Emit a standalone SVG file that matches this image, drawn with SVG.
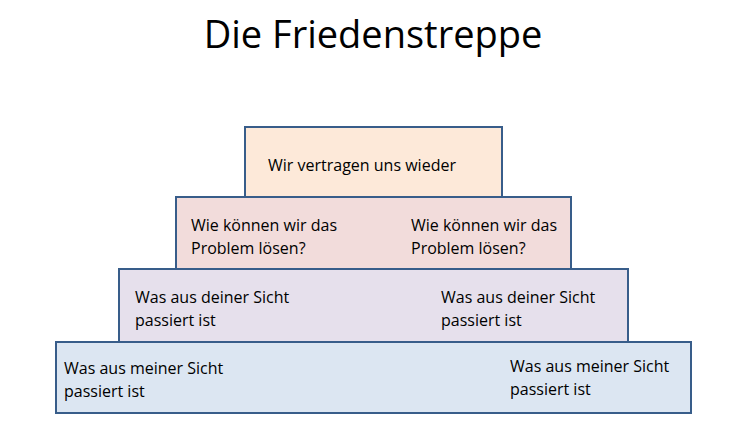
<svg xmlns="http://www.w3.org/2000/svg" width="750" height="422" viewBox="0 0 750 422">
<style>
.b{stroke:#385d8a;stroke-width:2}
.t{font-family:"Open Sans","Liberation Sans",sans-serif;font-size:16px;fill:#000}
</style>
<rect width="750" height="422" fill="#fff"/>
<text x="373" y="48" text-anchor="middle" font-family="'Open Sans','Liberation Sans',sans-serif" font-size="38">Die Friedenstreppe</text>
<g id="n4"><rect class="b" x="56" y="342" width="635" height="71" fill="#dce6f2"/>
<text class="t" x="64" y="374">Was aus meiner Sicht</text><text class="t" x="64" y="397">passiert ist</text>
<text class="t" x="510" y="372">Was aus meiner Sicht</text><text class="t" x="510" y="395">passiert ist</text></g>
<g id="n3"><rect class="b" x="119" y="269" width="509" height="73" fill="#e6e0ec"/>
<text class="t" x="135" y="303">Was aus deiner Sicht</text><text class="t" x="135" y="326">passiert ist</text>
<text class="t" x="441" y="303">Was aus deiner Sicht</text><text class="t" x="441" y="326">passiert ist</text></g>
<g id="n2"><rect class="b" x="176" y="197" width="395" height="72" fill="#f2dcdb"/>
<text class="t" x="191" y="231">Wie können wir das</text><text class="t" x="191" y="254">Problem lösen?</text>
<text class="t" x="411" y="231">Wie können wir das</text><text class="t" x="411" y="254">Problem lösen?</text></g>
<g id="n1"><rect class="b" x="245" y="127" width="257" height="70" fill="#fde9d9"/>
<text class="t" x="268" y="171">Wir vertragen uns wieder</text></g>
<g id="connectors"/>
</svg>
